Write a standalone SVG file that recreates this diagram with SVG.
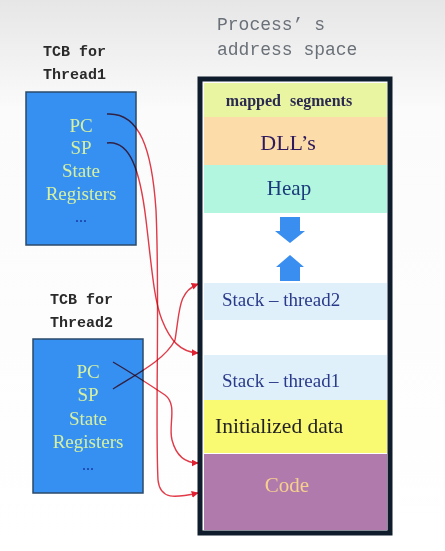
<svg xmlns="http://www.w3.org/2000/svg" width="445" height="551" viewBox="0 0 445 551">
<defs>
<linearGradient id="bg" x1="0" y1="0" x2="0" y2="1">
<stop offset="0" stop-color="#e6e6e6"/>
<stop offset="0.2" stop-color="#fbfbfb"/>
<stop offset="1" stop-color="#ffffff"/>
</linearGradient>
<marker id="ah" viewBox="0 0 10 10" refX="9" refY="5" markerWidth="5" markerHeight="5" orient="auto">
<path d="M0,0 L10,5 L0,10 Z" fill="#e02030"/>
</marker>
<style>
.mono{font-family:"Liberation Mono","DejaVu Sans Mono",monospace;}
.tcb{font-size:15px;fill:#2a2a2a;font-weight:bold;}
.title{font-size:18px;fill:#6a7078;}
.box{fill:#3690f2;stroke:#2a4a6a;stroke-width:1.5;}
.reg{font-family:"Liberation Serif","Times New Roman",serif;font-size:19px;fill:#d6f0a0;text-anchor:middle;}
.dots{font-family:"Liberation Serif",serif;font-size:16px;fill:#1a3aa0;text-anchor:middle;}
.seg{font-family:"Liberation Serif","Times New Roman",serif;}
.link{fill:none;stroke:#e23a48;stroke-width:1.4;mix-blend-mode:multiply;}
.grow{fill:#3a8ef0;}
</style>
</defs>
<rect width="445" height="551" fill="url(#bg)"/>

<g id="tcb1">
<text class="mono tcb" x="43" y="56">TCB for</text>
<text class="mono tcb" x="43" y="79">Thread1</text>
<rect class="box" x="26" y="92" width="110" height="153"/>
<text class="reg" x="81" y="132">PC</text>
<text class="reg" x="81" y="154">SP</text>
<text class="reg" x="81" y="177">State</text>
<text class="reg" x="81" y="200">Registers</text>
<text class="dots" x="81" y="222">...</text>
</g>

<g id="tcb2">
<text class="mono tcb" x="50" y="304">TCB for</text>
<text class="mono tcb" x="50" y="327">Thread2</text>
<rect class="box" x="33" y="339" width="110" height="154"/>
<text class="reg" x="88" y="378">PC</text>
<text class="reg" x="88" y="401">SP</text>
<text class="reg" x="88" y="425">State</text>
<text class="reg" x="88" y="448">Registers</text>
<text class="dots" x="88" y="470">...</text>
</g>

<g id="address-space">
<text class="mono title" x="217" y="30">Process’ s</text>
<text class="mono title" x="217" y="55">address space</text>
<rect x="200" y="79" width="190" height="454" fill="#ffffff" stroke="#0e1c2c" stroke-width="5"/>
<g id="seg-mapped">
<rect x="204" y="83" width="183" height="34" fill="#eaf5a2"/>
<text class="seg" x="289" y="106" font-size="16" font-weight="bold" fill="#2a2a50" text-anchor="middle" word-spacing="5">mapped segments</text>
</g>
<g id="seg-dll">
<rect x="204" y="117" width="183" height="48" fill="#fcdca8"/>
<text class="seg" x="288" y="150" font-size="22" fill="#2e1a5c" text-anchor="middle">DLL’s</text>
</g>
<g id="seg-heap">
<rect x="204" y="165" width="183" height="48" fill="#b2f6e0"/>
<text class="seg" x="289" y="195" font-size="21" fill="#1a3a7a" text-anchor="middle">Heap</text>
</g>
<g id="grow-down">
<path class="grow" d="M280,217 H300 V231 H305 L290,243 L275,231 H280 Z"/>
</g>
<g id="grow-up">
<path class="grow" d="M290,255 L304,267 H300 V281 H280 V267 H276 Z"/>
</g>
<g id="seg-stack2">
<rect x="204" y="283" width="183" height="37" fill="#dff0fb"/>
<text class="seg" x="222" y="306" font-size="19" fill="#2a3a8a">Stack – thread2</text>
</g>
<g id="seg-stack1">
<rect x="204" y="355" width="183" height="45" fill="#dff0fb"/>
<text class="seg" x="222" y="387" font-size="19" fill="#2a3a8a">Stack – thread1</text>
</g>
<g id="seg-init">
<rect x="204" y="400" width="183" height="53" fill="#fafa72"/>
<text class="seg" x="215" y="433" font-size="21.5" fill="#222222">Initialized data</text>
</g>
<g id="seg-code">
<rect x="204" y="454" width="183" height="76" fill="#b07aac"/>
<text class="seg" x="287" y="492" font-size="21" fill="#f6d08e" text-anchor="middle">Code</text>
</g>
</g>

<g id="connectors">
<path class="link" marker-end="url(#ah)" d="M107,114 C140,112 152,150 156,210 C160,300 155,420 158,480 C160,500 175,498 198,493"/>
<path class="link" marker-end="url(#ah)" d="M107,143 C130,140 140,170 146,220 C152,270 154,300 162,320 C170,340 180,352 198,353"/>
<path class="link" marker-end="url(#ah)" d="M113,362 C130,372 150,385 165,395 C178,405 168,425 172,440 C176,455 185,463 198,463"/>
<path class="link" marker-end="url(#ah)" d="M113,389 C135,375 165,360 175,340 C180,310 178,292 198,284"/>
</g>
</svg>
